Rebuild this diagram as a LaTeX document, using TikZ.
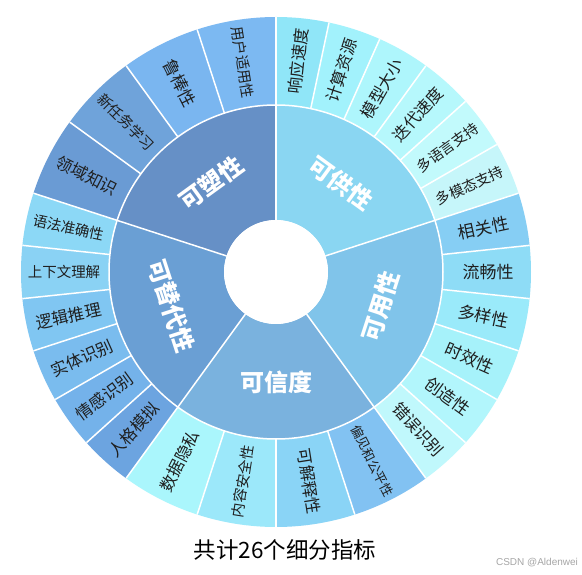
\documentclass[tikz,border=0pt]{standalone}
\usepackage{fontspec}
\setmainfont{Liberation Sans}
\newfontfamily\cjk{Noto Sans CJK SC}
\begin{document}
\begin{tikzpicture}[x=1pt,y=1pt,
  outlbl/.style={text=black!88, inner sep=0pt},
  inlbl/.style={font=\cjk\bfseries\fontsize{24}{24}\selectfont, text=white, inner sep=0pt},
  sepline/.style={draw=white, line width=1.5pt},
  caption/.style={font=\cjk\fontsize{22.5}{22.5}\selectfont, text=black, inner sep=0pt},
  wmark/.style={font=\fontsize{10}{10}\selectfont, text=black!35, inner sep=0pt}]
\useasboundingbox (0,0) rectangle (582,574);
\fill[white] (0,0) rectangle (582,574);
\begin{scope}[shift={(276,302)}]
% outer ring
\foreach \a/\b/\col/\txt/\fs [count=\i] in {
 90/78/90E6F8/响应速度/16.5, 78/66/A2F2FC/计算资源/16.5, 66/54/AEF6FC/模型大小/16.5,
 54/42/B6F8FC/迭代速度/16.5, 42/30/C2FAFC/多语言支持/14.5, 30/18/C6F6FA/多模态支持/14.5,
 18/6/86CEF4/相关性/17, 6/-6/8EDCF6/流畅性/17, -6/-18/9AEAFA/多样性/17,
 -18/-30/A6F2FA/时效性/17, -30/-42/B2F6FC/创造性/17, -42/-54/C0F8FC/错误识别/16.5,
 -54/-72/82C2F2/偏见和公平性/13, -72/-90/8AD4F6/可解释性/16.5,
 -90/-108/9CE8FA/内容安全性/14.5, -108/-126/AAF6FC/数据隐私/16.5,
 234/222/6CA4E0/人格模拟/16.5, 222/210/74B2EA/情感识别/16.5, 210/198/7ABCEE/实体识别/16.5,
 198/186/80C6F2/逻辑推理/16.5, 186/174/8AD2F4/上下文理解/14.5, 174/162/8CD8F6/语法准确性/14.5,
 162/144/6A9BD4/领域知识/16.5, 144/126/6FA3DA/新任务学习/14.5,
 126/108/7AB6F0/鲁棒性/17, 108/90/7CB9F2/用户适用性/14.5}
{
  \definecolor{cur}{HTML}{\col}
  \fill[cur] (\a:167) arc[start angle=\a, end angle=\b, radius=167]
     -- (\b:255) arc[start angle=\b, end angle=\a, radius=255] -- cycle;
  \pgfmathsetmacro\m{(\a+\b)/2}
  \pgfmathsetmacro\rot{cos(\m)>0 ? \m : \m-180}
  \node[outlbl, font=\cjk\fontsize{\fs}{\fs}\selectfont, rotate=\rot] (o\i) at (\m:212) {\txt};
}
% inner ring
\foreach \a/\b/\col/\txt [count=\i] in {
 90/162/6690C6/可塑性, 18/90/8AD6F2/可供性, -54/18/80C4EA/可用性,
 -126/-54/7AB2DE/可信度, 162/234/6A9FD4/可替代性}
{
  \definecolor{cur}{HTML}{\col}
  \fill[cur] (\a:52) arc[start angle=\a, end angle=\b, radius=52]
     -- (\b:167) arc[start angle=\b, end angle=\a, radius=167] -- cycle;
}
% separators
\foreach \t in {90,78,66,54,42,30,18,6,-6,-18,-30,-42,-54,-72,-90,-108,-126,
                222,210,198,186,174,162,144,126,108}
  \draw[sepline] (\t:167) -- (\t:255);
\foreach \t in {90,18,-54,-126,162}
  \draw[sepline] (\t:52) -- (\t:167);
\draw[sepline] (0,0) circle[radius=167];
\fill[white] (0,0) circle[radius=52];
% inner labels
\foreach \m/\txt [count=\i] in {126/可塑性, 54/可供性, -18/可用性, -90/可信度, 198/可替代性}
{
  \pgfmathsetmacro\rot{sin(\m)>0 ? \m-90 : \m+90}
  \node[inlbl, rotate=\rot] (c\i) at (\m:110) {\txt};
}
\end{scope}
\node[caption] (cap) at (285,24) {共计26个细分指标};
\node[wmark] (wm) at (537,11) {CSDN @Aldenwei};
\end{tikzpicture}
\end{document}
